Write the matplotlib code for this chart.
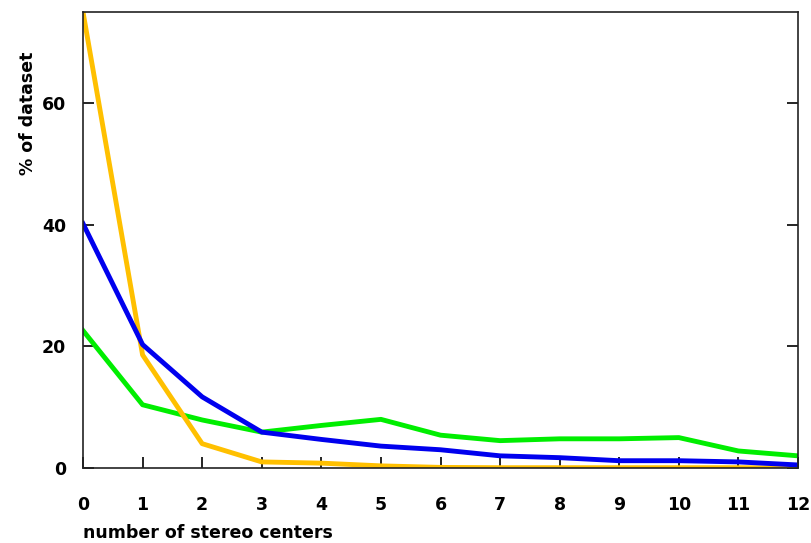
import matplotlib
matplotlib.use('Agg')
import matplotlib.pyplot as plt

plt.rcParams['font.family'] = ['DejaVu Sans']

# stereo center counts and share of dataset (%)
centers = list(range(13))
green = [22.6, 10.4, 7.9, 5.9, 7.0, 8.0, 5.4, 4.5, 4.8, 4.8, 5.0, 2.8, 2.0]
orange = [75.0, 18.6, 4.0, 1.0, 0.8, 0.35, 0.1, 0.05, 0.05, 0.05, 0.05, 0.05, 0.0]
blue = [40.2, 20.3, 11.7, 5.9, 4.7, 3.6, 3.0, 2.0, 1.7, 1.2, 1.2, 1.0, 0.5]

x_ticks = list(range(13))
y_ticks = [0, 20, 40, 60]

fig = plt.figure(figsize=(8.11, 5.43), dpi=100)
ax = fig.add_axes([83 / 811, 1 - 468 / 543, 715 / 811, 456 / 543])

ax.plot(centers, green, color='#00ee00', linewidth=3.5, solid_joinstyle='round')
ax.plot(centers, orange, color='#ffc000', linewidth=3.5, solid_joinstyle='round')
ax.plot(centers, blue, color='#0000ee', linewidth=3.5, solid_joinstyle='round')

ax.set_xlim(0, 12)
ax.set_ylim(0, 75)
ax.set_xticks(x_ticks)
ax.set_yticks(y_ticks)

for sp in ax.spines.values():
    sp.set_linewidth(1.2)
    sp.set_color('#222222')

ax.tick_params(axis='x', direction='in', length=8, width=1.2, pad=20,
               labelsize=12.5, bottom=True, top=False)
ax.tick_params(axis='y', direction='in', length=8, width=1.2, pad=12,
               labelsize=12.5, left=True, right=True)
for lbl in ax.get_xticklabels() + ax.get_yticklabels():
    lbl.set_fontweight('bold')

fig.text(28 / 811, 1 - 113 / 543, '% of dataset', rotation=90, ha='center',
         va='center', fontsize=12.5, fontweight='bold')
fig.text(83 / 811, 1 - 533 / 543, 'number of stereo centers', ha='left',
         va='center', fontsize=12.5, fontweight='bold')

fig.savefig('out.png', dpi=100)
